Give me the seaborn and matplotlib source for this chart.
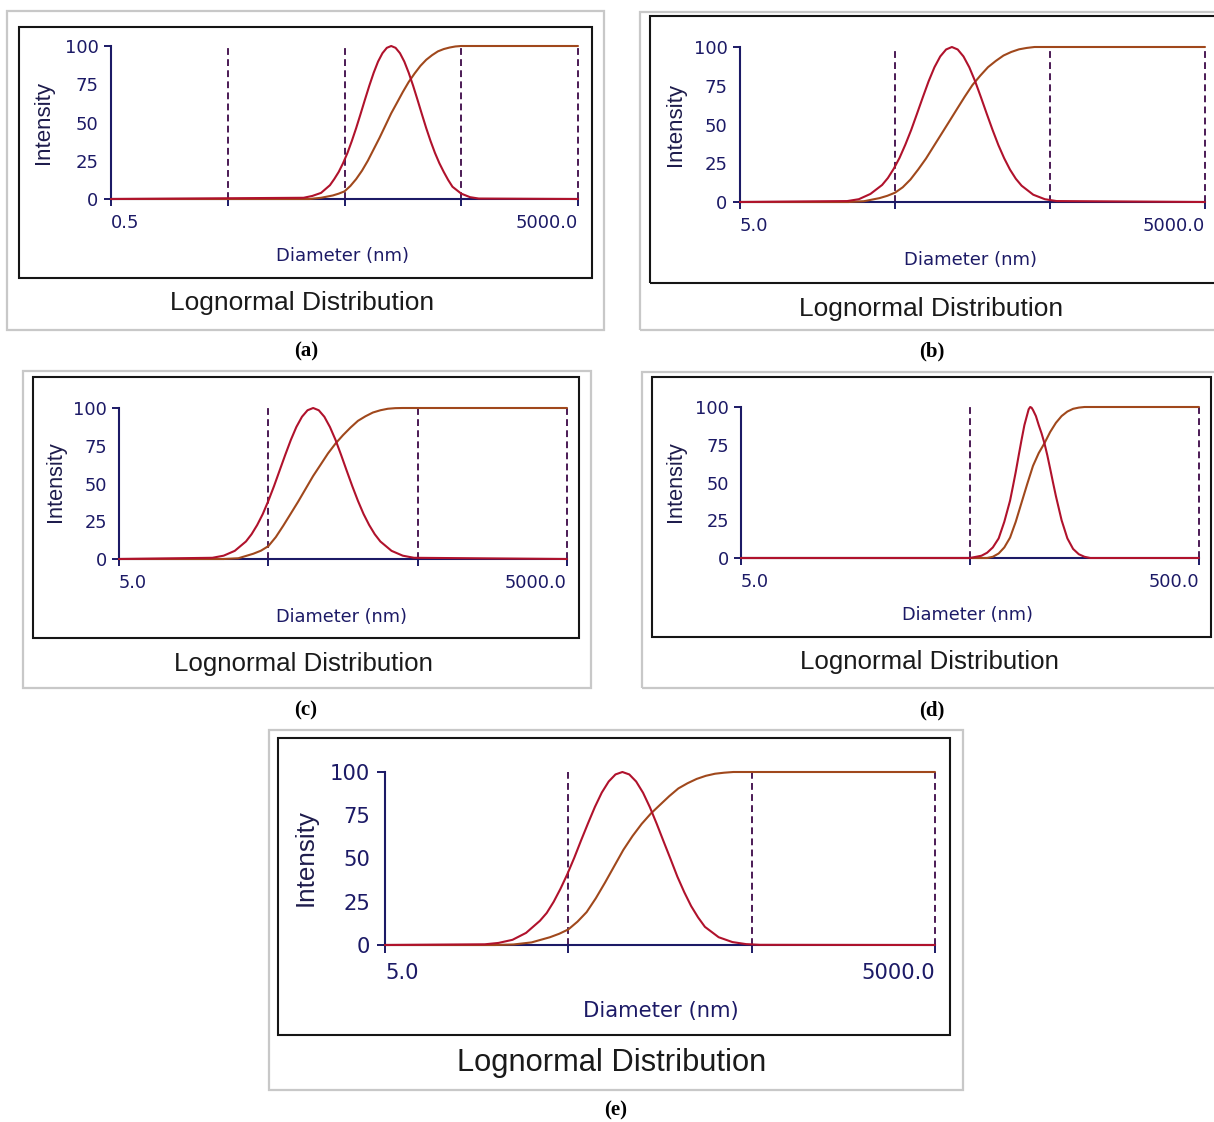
import matplotlib
matplotlib.use("Agg")
import matplotlib.pyplot as plt
import seaborn as sns
from matplotlib.patches import Rectangle

# values (diameter in nm, intensity in %)
a_dens_nm = [0.5, 22.3, 26.5, 31.5, 37.5, 40.9, 44.6, 48.6, 53.0, 57.7, 62.9, 68.6, 74.8, 81.6,
             88.9, 96.9, 105.7, 115.2, 125.6, 136.9, 149.3, 162.7, 177.4, 193.4, 210.9, 229.9,
             250.6, 273.2, 297.8, 324.7, 354.0, 385.9, 420.7, 500.0, 594.3, 706.3, 5000]
a_dens = [0, 0.8, 2.0, 4, 9, 13.1, 17.7, 23.4, 30.1, 37.8, 46.3, 55.5, 64.9, 74.1,
          82.5, 89.8, 95.3, 98.8, 100, 98.8, 95.3, 89.8, 82.5, 74.1, 64.9, 55.5,
          46.3, 37.8, 30.1, 23.4, 17.7, 12.5, 8, 3.5, 1.2, 0.3, 0]
a_cum_nm = [0.5, 25.1, 31.5, 39.7, 44.6, 50.0, 56.1, 62.9, 70.6, 79.2, 88.9, 99.8, 112.0, 125.6,
            141.0, 158.1, 177.4, 199.1, 223.4, 250.6, 281.2, 315.5, 354.0, 397.2, 445.7, 500.0, 5000]
a_cum = [0, 0, 0.8, 2.3, 3.5, 5, 8.5, 13, 18.5, 25, 32.5, 40, 48, 56,
         63, 70, 76.5, 82, 87, 91, 94, 96.5, 98, 99, 99.7, 100, 100]

b_dens_nm = [5, 24.6, 29.2, 34.7, 41.3, 45.0, 49.1, 53.5, 58.3, 63.6, 69.3, 75.6, 82.4, 89.8,
             97.9, 106.8, 116.4, 126.9, 138.3, 150.8, 164.4, 179.2, 195.4, 213.0, 232.3, 253.2,
             276.0, 300.9, 328.1, 389.9, 463.4, 550.7, 5000]
b_dens = [0, 0.6, 1.8, 5.2, 11, 15.5, 21.5, 28.5, 37, 46.5, 56.9, 67.6, 77.9, 86.9,
          93.9, 98.4, 100, 98.4, 93.9, 86.9, 77.9, 67.6, 56.9, 46.5, 36.7, 28.2,
          20.9, 15.0, 10.5, 4.7, 1.8, 0.6, 0]
b_cum_nm = [5, 25.1, 31.5, 39.7, 44.6, 50.0, 56.1, 62.9, 70.6, 79.2, 88.9, 99.8, 112.0, 125.6,
            141.0, 158.1, 177.4, 199.1, 223.4, 250.6, 281.2, 315.5, 354.0, 397.2, 5000]
b_cum = [0, 0, 0.5, 2.5, 4, 6, 9.5, 14.5, 21, 28, 36, 44, 52, 60,
         68, 75.5, 81.5, 87, 91, 94.5, 96.8, 98.5, 99.4, 100, 100]

c_dens_nm = [5, 21.1, 25.1, 29.8, 35.4, 38.6, 42.1, 45.9, 50.0, 54.5, 59.4, 64.8, 70.7, 77.0,
             84.0, 91.5, 99.8, 108.8, 118.6, 129.3, 141.0, 153.7, 167.5, 182.7, 199.1, 217.1,
             236.7, 258.0, 281.3, 334.3, 397.3, 472.2, 5000]
c_dens = [0, 0.8, 2.2, 5.4, 11.6, 16.4, 22.5, 29.8, 38.5, 48.1, 58.4, 68.8, 78.8, 87.4,
          94.2, 98.5, 100, 98.5, 94.2, 87.4, 78.8, 68.8, 58.4, 48.1, 38.5, 29.8,
          22.5, 16.4, 11.6, 5.4, 2.2, 0.8, 0]
c_cum_nm = [5, 25.1, 31.5, 39.7, 44.6, 50.0, 56.1, 62.9, 70.6, 79.2, 88.9, 99.8, 112.0, 125.6,
            141.0, 158.1, 177.4, 199.1, 223.4, 250.6, 281.2, 315.5, 354.0, 397.2, 5000]
c_cum = [0, 0, 0.5, 3.5, 5.5, 8.5, 14.5, 22, 30, 38, 46.5, 55, 62.5, 70,
         76.5, 82, 87, 91.5, 94.5, 97, 98.5, 99.5, 99.9, 100, 100]

d_dens_nm = [5, 50.0, 56.1, 59.4, 62.9, 66.7, 70.6, 74.8, 77.0, 79.2, 81.6, 83.9, 86.4, 88.9,
             90.2, 91.6, 92.9, 94.2, 97.0, 99.8, 102.7, 105.7, 108.8, 112.0, 115.2, 118.6,
             125.6, 133.1, 141.0, 149.3, 158.1, 167.5, 500]
d_dens = [0, 0, 1.5, 3.5, 7, 13, 24, 38, 47.5, 57, 68, 78, 88, 95,
          98.5, 100, 99.5, 98, 94, 88, 82.5, 76, 68, 59, 50, 41,
          25, 13, 6, 2.5, 0.8, 0, 0]
d_cum_nm = [5, 59.4, 62.9, 66.7, 70.6, 74.8, 79.2, 83.9, 88.9, 94.2, 99.8, 105.7, 112.0, 118.6,
            125.6, 133.1, 141.0, 149.3, 158.1, 500]
d_cum = [0, 0, 0.8, 3, 7, 13.5, 24, 36.5, 49, 61, 69.5, 76, 83.5, 89.5,
         94, 97, 98.8, 99.6, 100, 100]

e_dens_nm = [5, 17.5, 20.8, 24.8, 29.4, 35.0, 38.1, 41.6, 45.3, 49.4, 53.9, 58.7, 64.0, 69.8,
             76.1, 83.0, 90.4, 98.6, 107.5, 117.2, 127.8, 139.3, 151.8, 165.5, 180.5, 196.7,
             214.5, 233.8, 254.9, 277.9, 330.3, 392.5, 466.5, 554.5, 5000]
e_dens = [0, 0.4, 1.2, 3, 7, 14, 18.5, 25, 32.5, 41, 50.5, 60.5, 70.3, 79.8,
          88.1, 94.5, 98.6, 100, 98.6, 94.5, 88.0, 79.6, 70.0, 59.8, 49.7, 39.5,
          30.5, 22.5, 16, 10.5, 4.5, 1.7, 0.5, 0.1, 0]
e_cum_nm = [5, 19.9, 25.1, 31.5, 39.7, 44.6, 50.0, 56.1, 62.9, 70.6, 79.2, 88.9, 99.8, 112.0,
            125.6, 141.0, 158.1, 177.4, 199.1, 223.4, 250.6, 281.2, 315.5, 354.0, 397.2, 5000]
e_cum = [0, 0, 0.3, 1.5, 4.5, 6.5, 9, 13.5, 19, 27, 36, 45.5, 55, 63,
         70, 76, 81, 86, 90.5, 93.5, 96, 97.8, 99, 99.6, 100, 100]

a_ticks = [0.5, 5, 50, 500, 5000]
a_labels = ["0.5", "", "", "", "5000.0"]
wide_ticks = [5, 50, 500, 5000]
wide_labels = ["5.0", "", "", "5000.0"]
d_ticks = [5, 50, 500]
d_labels = ["5.0", "", "500.0"]
y_ticks = [0, 25, 50, 75, 100]
captions = ["(a)", "(b)", "(c)", "(d)", "(e)"]

W, H = 1214, 1122
DENS = "#b0122c"
CUM = "#a0481c"
DASH = "#4b1a55"
NAVY = "#1c1a66"

sns.set_theme(style="white")
plt.rcParams["font.family"] = ["DejaVu Sans"]

fig = plt.figure(figsize=(W / 100, H / 100), dpi=100)
fig.patch.set_facecolor("white")


def frac_box(x0, y0, x1, y1):
    return [x0 / W, 1 - y1 / H, (x1 - x0) / W, (y1 - y0) / H]


def frame(box, color, lw):
    l, b, w, h = frac_box(*box)
    fig.add_artist(Rectangle((l, b), w, h, transform=fig.transFigure, fill=False,
                             ec=color, lw=lw, zorder=0))


# pixel layout of each panel: outer frame, inner frame, plot area, text anchors
layout = [
    dict(outer=(7, 11, 604, 330), inner=(19, 27, 592, 278), axes=(111, 46, 578, 199),
         ylab=(44, 122), xlab=(343, 256), title=(302, 303), cap=(306, 351), s=1.0),
    dict(outer=(640, 12, 1235, 330), inner=(650, 16, 1235, 283), axes=(740, 47, 1205, 202),
         ylab=(675, 124), xlab=(971, 260), title=(931, 309), cap=(932, 351), s=1.0),
    dict(outer=(23, 371, 591, 688), inner=(33, 377, 579, 638), axes=(119, 408, 567, 559),
         ylab=(56, 482), xlab=(342, 617), title=(303, 664), cap=(306, 710), s=0.98),
    dict(outer=(642, 372, 1235, 688), inner=(652, 377, 1211, 637), axes=(741, 407, 1199, 558),
         ylab=(675, 482), xlab=(968, 615), title=(929, 662), cap=(932, 710), s=0.98),
    dict(outer=(269, 730, 963, 1090), inner=(278, 738, 950, 1035), axes=(385, 772, 935, 945),
         ylab=(306, 858), xlab=(661, 1011), title=(612, 1063), cap=(616, 1110), s=1.17),
]

series = [
    (a_dens_nm, a_dens, a_cum_nm, a_cum, a_ticks, a_labels),
    (b_dens_nm, b_dens, b_cum_nm, b_cum, wide_ticks, wide_labels),
    (c_dens_nm, c_dens, c_cum_nm, c_cum, wide_ticks, wide_labels),
    (d_dens_nm, d_dens, d_cum_nm, d_cum, d_ticks, d_labels),
    (e_dens_nm, e_dens, e_cum_nm, e_cum, wide_ticks, wide_labels),
]

for lay, (dx, dy, cx, cy, ticks, labels), cap in zip(layout, series, captions):
    s = lay["s"]
    frame(lay["outer"], "#c8c8c8", 1.6)
    frame(lay["inner"], "#151515", 1.5)

    ax = fig.add_axes(frac_box(*lay["axes"]))
    ax.set_facecolor("none")
    ax.set_xscale("log")

    for xv in ticks[1:]:
        ax.axvline(xv, ymin=0, ymax=1, color=DASH, lw=1.4, dashes=(3.5, 2.2), zorder=1, clip_on=False)

    sns.lineplot(x=cx, y=cy, ax=ax, color=CUM, lw=1.5, estimator=None, sort=False,
                 zorder=3, clip_on=False)
    sns.lineplot(x=dx, y=dy, ax=ax, color=DENS, lw=1.5, estimator=None, sort=False,
                 zorder=4, clip_on=False)

    ax.set_xlim(ticks[0], ticks[-1])
    ax.set_ylim(0, 100)
    ax.set_xlabel("")
    ax.set_ylabel("")
    ax.grid(False)
    for side in ["top", "right"]:
        ax.spines[side].set_visible(False)
    for side in ["left", "bottom"]:
        ax.spines[side].set_color(NAVY)
        ax.spines[side].set_linewidth(1.5)
        ax.spines[side].set_zorder(2)

    ax.minorticks_off()
    ax.set_xticks(ticks)
    ax.set_xticklabels(labels)
    ax.set_yticks(y_ticks)
    ax.set_yticklabels([str(v) for v in y_ticks])
    ax.tick_params(axis="both", direction="out", length=5 * s, width=1.4, color=NAVY,
                   labelcolor=NAVY, labelsize=13 * s, pad=4 * s)
    ax.tick_params(axis="x", pad=6 * s, bottom=True)
    ax.tick_params(axis="y", left=True)
    xl = ax.get_xticklabels()
    xl[0].set_ha("left")
    xl[-1].set_ha("right")
    for t in ax.yaxis.get_major_ticks()[1:4]:
        t.tick1line.set_visible(False)

    fig.text(lay["ylab"][0] / W, 1 - lay["ylab"][1] / H, "Intensity", rotation=90,
             ha="center", va="center", fontsize=16 * s, color="#1e1c4c",
             family=["Liberation Sans", "DejaVu Sans"])
    fig.text(lay["xlab"][0] / W, 1 - lay["xlab"][1] / H, "Diameter (nm)",
             ha="center", va="center", fontsize=13 * s, color=NAVY)
    fig.text(lay["title"][0] / W, 1 - lay["title"][1] / H, "Lognormal Distribution",
             ha="center", va="center", fontsize=19 * s, color="#1a1a1a",
             family=["Liberation Sans", "DejaVu Sans"])
    fig.text(lay["cap"][0] / W, 1 - lay["cap"][1] / H, cap, ha="center", va="center",
             fontsize=15, fontweight="bold", color="black",
             family=["Liberation Serif", "DejaVu Serif"])

fig.savefig("out.png", dpi=100, facecolor="white")
